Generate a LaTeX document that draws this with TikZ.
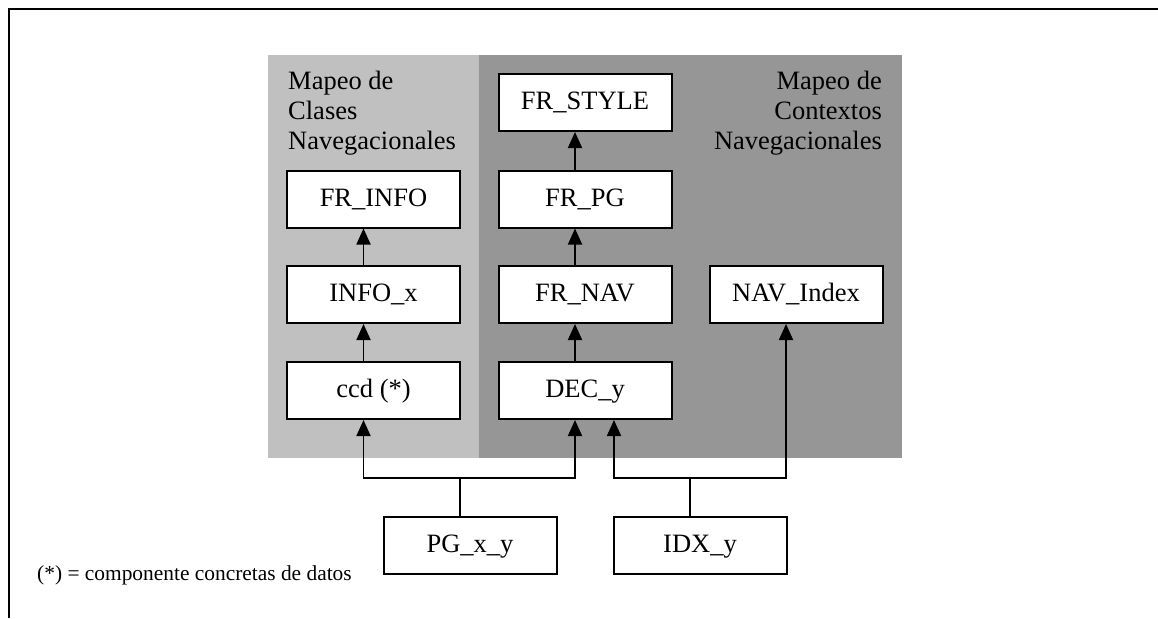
\documentclass[tikz,border=0pt]{standalone}
\usepackage{fontspec}
\setmainfont{Liberation Serif}
\usetikzlibrary{arrows.meta}
\definecolor{lightpanel}{RGB}{192,192,192}
\definecolor{darkpanel}{RGB}{150,150,150}
\begin{document}
\begin{tikzpicture}[x=1pt,y=-1pt,
  box/.style={draw=black, line width=2pt, fill=white, minimum width=173pt, minimum height=57pt,
    inner sep=0pt, font=\fontsize{26.5}{30}\selectfont, text height=17.5pt, text depth=3.5pt},
  paneltext/.style={inner sep=0pt, font=\fontsize{26.5}{30}\selectfont},
  arr/.style={draw=black, line width=1.8pt, -{Triangle[length=16pt,width=14pt]}},
  stem/.style={draw=black, line width=1.2pt},
  frame/.style={draw=black, line width=2pt}
]
\useasboundingbox (0,0) rectangle (1158,618);
% outer frame (cropped)
\draw[frame] (9,618) -- (9,9) -- (1158,9);
% panels
\fill[lightpanel] (268,55) rectangle (479,458);
\fill[darkpanel] (479,55) rectangle (902,458);
% panel titles (base anchor = last line)
\node[paneltext, anchor=base west, align=left] (tl) at (288,149) {Mapeo de\\Clases\\Navegacionales};
\node[paneltext, anchor=base east, align=right] (tr) at (882,149) {Mapeo de\\Contextos\\Navegacionales};
% boxes
\node[box] (frstyle) at (585,102.5) {FR\_STYLE};
\node[box] (frinfo) at (373.5,199) {FR\_INFO};
\node[box] (frpg) at (585,199) {FR\_PG};
\node[box] (infox) at (373.5,294.5) {INFO\_x};
\node[box] (frnav) at (585,294.5) {FR\_NAV};
\node[box] (navindex) at (796,294.5) {NAV\_Index};
\node[box] (ccd) at (373.5,390.5) {ccd (*)};
\node[box] (decy) at (585,390.5) {DEC\_y};
\node[box] (pgxy) at (470,545) {PG\_x\_y};
\node[box] (idxy) at (700,545) {IDX\_y};
% vertical arrows
\draw[arr] ([xshift=-10pt]infox.north) -- ([xshift=-10pt]frinfo.south);
\draw[arr] ([xshift=-10pt]ccd.north) -- ([xshift=-10pt]infox.south);
\draw[arr] ([xshift=-10pt]frpg.north) -- ([xshift=-10pt]frstyle.south);
\draw[arr] ([xshift=-10pt]frnav.north) -- ([xshift=-10pt]frpg.south);
\draw[arr] ([xshift=-10pt]decy.north) -- ([xshift=-10pt]frnav.south);
% bottom connectors
\coordinate (pgj) at (460,478);
\coordinate (idxj) at (690,478);
\draw[stem] ([xshift=-10pt]pgxy.north) -- (pgj);
\draw[stem] ([xshift=-10pt]idxy.north) -- (idxj);
\draw[arr] (pgj) -| ([xshift=-10pt]ccd.south);
\draw[arr] (pgj) -| ([xshift=-10pt]decy.south);
\draw[arr] (idxj) -| ([xshift=29pt]decy.south);
\draw[arr] (idxj) -| ([xshift=-10pt]navindex.south);
% footnote
\node[inner sep=0pt, anchor=base west, font=\fontsize{21.4}{24}\selectfont] (note) at (37,580) {(*) = componente concretas de datos};
\end{tikzpicture}
\end{document}
